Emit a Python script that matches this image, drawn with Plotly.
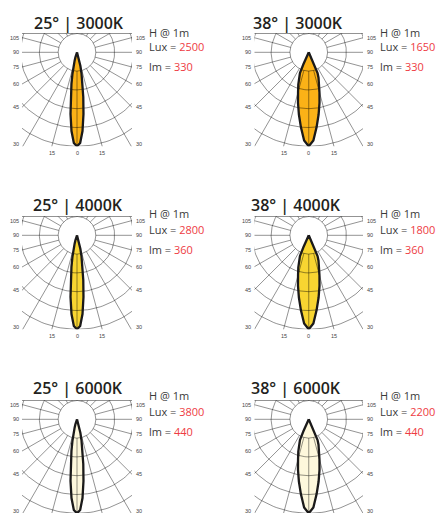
import numpy as np
import plotly.graph_objects as go

# ---------------- data ----------------
beam_angles_25 = [0, 2, 4, 6, 8, 10, 12, 14, 16, 18, 20, 25, 30, 90]
beam_rel_25 = [1.0, 0.965, 0.84, 0.66, 0.48, 0.34, 0.23, 0.15, 0.09, 0.055, 0.03, 0.01, 0.0, 0.0]
beam_angles_38 = [0, 3, 6, 9, 12, 15, 18, 21, 23, 24, 25, 27, 30, 90]
beam_rel_38 = [1.0, 0.94, 0.80, 0.67, 0.55, 0.44, 0.36, 0.29, 0.24, 0.14, 0.05, 0.01, 0.0, 0.0]

beam_labels = ["25°", "38°"]
cct_labels = ["3000K", "4000K", "6000K"]
lux_25 = [2500, 2800, 3800]
lux_38 = [1650, 1800, 2200]
lumens = [330, 360, 440]
height_label = "H @ 1m"

side_tick_angles = [105, 90, 75, 60, 45, 30]
side_tick_text = ["105", "90", "75", "60", "45", "30"]
bottom_tick_angles = [-15, 0, 15]
bottom_tick_text = ["15", "0", "15"]

# ---------------- styling / layout ----------------
W, H = 437, 513
PX = 18.8                      # pixels per ring
RINGS = 5
cct_fills = ["#FBB217", "#F8D531", "#FEF8DC"]
grid_color = "rgba(0,0,0,0.5)"
outline_color = "#1b1a1a"
red = "#EE3B43"
text_dark = "#3a3a3a"

col_box_px = [(22.0, 132.0), (254.5, 363.0)]
row_top_px = [33.5, 216.5, 400.5]
title_xy = [[(79, 23), (298, 23)], [(78, 205), (296, 205)], [(78, 388), (296, 388)]]
info_x = [148, 379]
info_y = [(32, 47, 67), (213, 229, 249.5), (395.5, 411.5, 431)]

beam_data = [(beam_angles_25, beam_rel_25), (beam_angles_38, beam_rel_38)]
lux_data = [lux_25, lux_38]

fig = go.Figure()
layout = dict(width=W, height=H, margin=dict(l=0, r=0, t=0, b=0),
              paper_bgcolor="white", plot_bgcolor="rgba(0,0,0,0)",
              showlegend=False)
annotations = []
shapes = []


def polar_xy(theta_deg, r):
    t = np.radians(np.asarray(theta_deg, dtype=float))
    r = np.asarray(r, dtype=float)
    return r * np.sin(t), -r * np.cos(t)


k = 0
for row in range(3):
    for col in range(2):
        k += 1
        xs = "" if k == 1 else str(k)
        x0p, x1p = col_box_px[col]
        xr = (x1p - x0p) / 2 / PX
        top = row_top_px[row]
        full_bot = top + (1 + RINGS) * PX
        bot = min(full_bot, H)
        ybot = 1 - (bot - top) / PX
        layout["xaxis" + xs] = dict(domain=[x0p / W, x1p / W], range=[-xr, xr],
                                    visible=False, fixedrange=True)
        layout["yaxis" + xs] = dict(domain=[1 - bot / H, 1 - top / H], range=[ybot, 1],
                                    visible=False, fixedrange=True)
        xa, ya = "x" + xs, "y" + xs

        # beam polygon
        ang, rel = beam_data[col]
        th = [-a for a in reversed(ang)] + ang[1:]
        rr = [RINGS * v for v in reversed(rel)] + [RINGS * v for v in rel[1:]]
        bx, by = polar_xy(th, rr)
        fig.add_trace(go.Scatter(x=bx, y=by, mode="lines", fill="toself",
                                 fillcolor=cct_fills[row], line=dict(width=0),
                                 xaxis=xa, yaxis=ya, hoverinfo="skip"))

        # grid: rings and spokes
        gx, gy = [], []
        circ = np.arange(0, 361, 2)
        for r in range(1, RINGS + 1):
            cx, cy = polar_xy(circ, np.full(circ.shape, r))
            gx += list(cx) + [None]
            gy += list(cy) + [None]
        for a in range(-180, 181, 15):
            sx, sy = polar_xy([a, a], [1, 9])
            gx += list(sx) + [None]
            gy += list(sy) + [None]
        fig.add_trace(go.Scatter(x=gx, y=gy, mode="lines",
                                 line=dict(color=grid_color, width=0.85),
                                 xaxis=xa, yaxis=ya, hoverinfo="skip"))

        # beam outline
        fig.add_trace(go.Scatter(x=bx, y=by, mode="lines",
                                 line=dict(color=outline_color, width=2.3),
                                 xaxis=xa, yaxis=ya, hoverinfo="skip"))

        # top border
        shapes.append(dict(type="line", xref=xa + " domain", yref=ya + " domain",
                           x0=0, x1=1, y0=1, y1=1,
                           line=dict(color="rgba(0,0,0,0.5)", width=0.85)))

        # side tick labels
        lab_font = dict(family="Liberation Sans Narrow, Liberation Sans, Arial", size=5.5, color="#444")
        for a, t in zip(side_tick_angles, side_tick_text):
            yv = -xr / np.tan(np.radians(a)) if a != 90 else 0.0
            yv = max(yv, ybot + 0.12)
            annotations.append(dict(x=-xr, y=yv, xref=xa, yref=ya, text=t, showarrow=False,
                                    xanchor="right", yanchor="middle", xshift=-1, font=lab_font))
            annotations.append(dict(x=xr, y=yv, xref=xa, yref=ya, text=t, showarrow=False,
                                    xanchor="left", yanchor="middle", xshift=2, font=lab_font))
        if full_bot + 8 <= H:
            for a, t in zip(bottom_tick_angles, bottom_tick_text):
                xv = -ybot * np.tan(np.radians(a))
                annotations.append(dict(x=xv, y=ybot, xref=xa, yref=ya, text=t, showarrow=False,
                                        xanchor="center", yanchor="top", yshift=-2, font=lab_font))

        # title
        tx, ty = title_xy[row][col]
        annotations.append(dict(x=tx / W, y=1 - ty / H, xref="paper", yref="paper",
                                text=f"{beam_labels[col]} | {cct_labels[row]}",
                                showarrow=False, xanchor="center", yanchor="middle",
                                font=dict(family="Open Sans", size=16, color="#231F20", weight=600)))
        # info text
        info_font = dict(family="Open Sans", size=11, color=text_dark)
        y1, y2, y3 = info_y[row]
        lines = [height_label,
                 f"Lux = <span style='color:{red}'>{lux_data[col][row]}</span>",
                 f"lm = <span style='color:{red}'>{lumens[row]}</span>"]
        for yy, txt in zip((y1, y2, y3), lines):
            annotations.append(dict(x=info_x[col] / W, y=1 - yy / H, xref="paper", yref="paper",
                                    text=txt, showarrow=False, xanchor="left", yanchor="middle",
                                    borderpad=0, font=info_font))

layout["annotations"] = annotations
layout["shapes"] = shapes
fig.update_layout(**layout)
fig.write_html("out.html", config={"displayModeBar": False},
               post_script="document.body.style.margin='0';document.body.style.padding='0';"
                           "document.body.style.overflow='hidden';")
